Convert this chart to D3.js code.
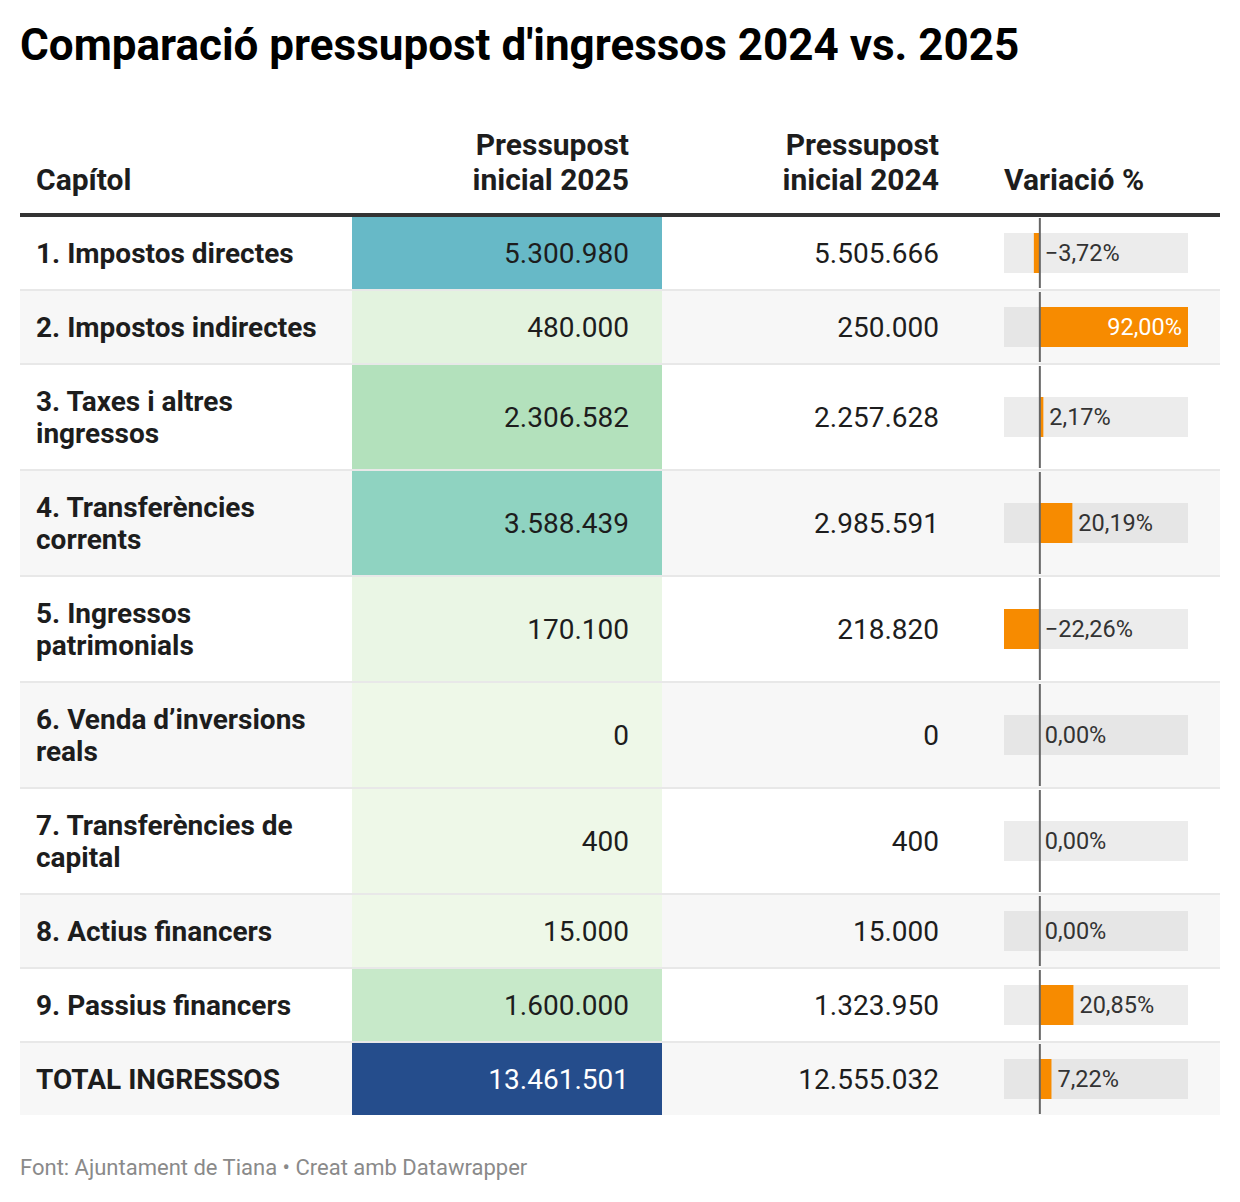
<!DOCTYPE html>
<html><head><meta charset="utf-8">
<script src="https://cdn.jsdelivr.net/npm/d3@7"></script>
<style>body{margin:0;background:#fff;font-family:Roboto,sans-serif;}</style>
</head><body>
<svg id="chart" width="1240" height="1202"></svg>
<script>
const title = "Comparació pressupost d'ingressos 2024 vs. 2025";
const footer = "Font: Ajuntament de Tiana • Creat amb Datawrapper";
const headers = ["Capítol", "Pressupost\ninicial 2025", "Pressupost\ninicial 2024", "Variació %"];
const categories = ["1. Impostos directes","2. Impostos indirectes","3. Taxes i altres ingressos","4. Transferències corrents","5. Ingressos patrimonials","6. Venda d’inversions reals","7. Transferències de capital","8. Actius financers","9. Passius financers","TOTAL INGRESSOS"];
const budget2025 = [5300980,480000,2306582,3588439,170100,0,400,15000,1600000,13461501];
const budget2024 = [5505666,250000,2257628,2985591,218820,0,400,15000,1323950,12555032];
const variation = [-3.72,92.00,2.17,20.19,-22.26,0.00,0.00,0.00,20.85,7.22];
const colorStops = [0, 500000, 1600000, 2300000, 3600000, 5300000, 13461501];
const colorRange = ["#eef8e8","#e3f3df","#c7e9c9","#b3e1bc","#8fd3c1","#67b9c7","#254d8c"];

const loc = d3.formatLocale({decimal:",", thousands:".", grouping:[3], currency:["","€"], minus:"\u2212"});
const fmtNum = loc.format(",.0f");
const fmtPct = v => loc.format(".2f")(v) + "%";

const svg = d3.select("#chart");
svg.append("text").attr("x",20).attr("y",60).attr("font-size",44).attr("font-weight",700).attr("fill","#000").text(title);

const L = 20, R = 1220;
const colX = {label:36, c25a:352, c25b:662, c24r:939, barL:1004, barR:1188};
const headFont = 30, rowFont = 28, pctFont = 23.5;

function multi(g, str, x, yLast, anchor, lh){
  const lines = str.split("\n");
  lines.forEach((ln,i)=>{
    g.append("text").attr("x",x).attr("y",yLast-(lines.length-1-i)*lh).attr("text-anchor",anchor)
      .attr("font-size",headFont).attr("font-weight",700).attr("fill","#1d1d1d").text(ln);
  });
}
const hg = svg.append("g");
multi(hg, headers[0], colX.label, 190, "start", 35);
multi(hg, headers[1], 629, 190, "end", 35);
multi(hg, headers[2], colX.c24r, 190, "end", 35);
multi(hg, headers[3], colX.barL, 190, "start", 35);

const meas = svg.append("text").attr("font-size",rowFont).attr("font-weight",700).attr("visibility","hidden");
function wrap(s, maxW){
  const words = s.split(" "); const lines=[]; let cur="";
  words.forEach(w=>{
    const t = cur ? cur+" "+w : w;
    meas.text(t);
    if (meas.node().getComputedTextLength() > maxW && cur){ lines.push(cur); cur=w; } else cur=t;
  });
  lines.push(cur); return lines;
}
const wrapped = categories.map(c=>wrap(c,305));
meas.remove();

const rowH = wrapped.map(l => l.length>1 ? 106 : 74);
const rowY = []; let yy = 217;
rowH.forEach(h=>{rowY.push(yy); yy+=h;});

const color = d3.scaleLinear().domain(colorStops).range(colorRange).interpolate(d3.interpolateRgb);
const x = d3.scaleLinear().domain([d3.min(variation), d3.max(variation)]).range([colX.barL, colX.barR]);

const rows = svg.append("g");
categories.forEach((c,i)=>{
  const y0 = rowY[i], h = rowH[i], last = i===categories.length-1;
  const hh = last ? h-2 : h;
  const cy = y0 + (h-2)/2;
  const g = rows.append("g");
  g.append("rect").attr("x",L).attr("y",y0).attr("width",R-L).attr("height",hh).attr("fill", i%2===1 ? "#f7f7f7" : "#ffffff");
  if(!last) g.append("rect").attr("x",L).attr("y",y0+h-2).attr("width",R-L).attr("height",2).attr("fill","#e8e8e8");
  g.append("rect").attr("x",colX.c25a).attr("y",y0).attr("width",colX.c25b-colX.c25a).attr("height",last?hh:h-2).attr("fill",color(budget2025[i]));
  const lines = wrapped[i];
  lines.forEach((ln,k)=>{
    g.append("text").attr("x",colX.label).attr("y",cy + 10 + (k-(lines.length-1)/2)*32)
      .attr("font-size",rowFont).attr("font-weight",700).attr("fill","#1d1d1d").text(ln);
  });
  g.append("text").attr("x",629).attr("y",cy+10).attr("text-anchor","end").attr("font-size",rowFont)
    .attr("fill", budget2025[i] > 8000000 ? "#ffffff" : "#1d1d1d").text(fmtNum(budget2025[i]));
  g.append("text").attr("x",colX.c24r).attr("y",cy+10).attr("text-anchor","end").attr("font-size",rowFont)
    .attr("fill","#1d1d1d").text(fmtNum(budget2024[i]));
  g.append("rect").attr("x",colX.barL).attr("y",cy-20).attr("width",colX.barR-colX.barL).attr("height",40)
    .attr("fill", i%2===1 ? "#e6e6e6" : "#ececec");
  const v = variation[i];
  const bx = Math.min(x(0), x(v)), bw = Math.abs(x(v)-x(0));
  if (bw>0) g.append("rect").attr("x",bx).attr("y",cy-20).attr("width",bw).attr("height",40).attr("fill","#f78b00");
  const inside = bw > 100 && v>0;
  g.append("text").attr("x", inside ? x(v)-6 : (v>0 ? x(v)+6 : x(0)+5)).attr("y",cy+8)
    .attr("text-anchor", inside ? "end" : "start").attr("font-size",pctFont)
    .attr("fill", inside ? "#ffffff" : "#333333").text(fmtPct(v));
  g.append("line").attr("x1",x(0)).attr("x2",x(0)).attr("y1",y0+1).attr("y2",y0+h-3).attr("stroke","#666").attr("stroke-width",2);
});

svg.append("rect").attr("x",L).attr("y",213).attr("width",R-L).attr("height",4).attr("fill","#333");

svg.append("text").attr("x",20).attr("y",1175).attr("font-size",22).attr("fill","#8a8a8a").text(footer);
</script>
</body></html>
